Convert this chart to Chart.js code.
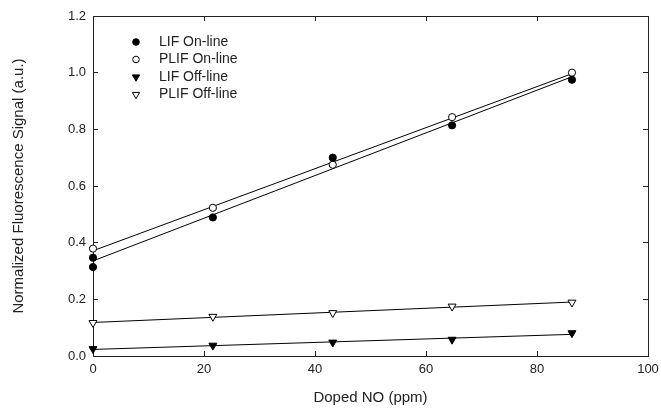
<!DOCTYPE html>
<html>
<head>
<meta charset="utf-8">
<script src="https://cdn.jsdelivr.net/npm/chart.js@4/dist/chart.umd.min.js"></script>
<style>
  body { margin: 0; background: #fff; }
  canvas { display: block; }
</style>
</head>
<body>
<canvas id="myChart" width="661" height="409"></canvas>
<script>
// values
const dopedNO = [0, 21.6, 43.2, 64.7, 86.3];
const lifOn = [0.347, 0.489, 0.700, 0.814, 0.975];
const lifOnRepeatX = [0];
const lifOnRepeat = [0.314];
const plifOn = [0.379, 0.523, 0.675, 0.843, 1.000];
const lifOff = [0.025, 0.037, 0.048, 0.058, 0.081];
const plifOff = [0.117, 0.139, 0.152, 0.175, 0.189];

const seriesNames = ["LIF On-line", "PLIF On-line", "LIF Off-line", "PLIF Off-line"];
const xTicks = [0, 20, 40, 60, 80, 100];
const yTicks = [0, 0.2, 0.4, 0.6, 0.8, 1.0, 1.2];

const ink = "#222";
const family = "'Liberation Sans', Arial, sans-serif";
const tickFont = { family: family, size: 13 };
const titleFont = { family: family, size: 15 };
const legendSize = 14;

const toPoints = (xs, ys) => xs.map((x, i) => ({ x: x, y: ys[i] }));

// least squares line through the points, drawn from first to last x
const fitLine = (xs, ys) => {
  const n = xs.length;
  const mx = xs.reduce((a, b) => a + b, 0) / n;
  const my = ys.reduce((a, b) => a + b, 0) / n;
  let sxy = 0;
  let sxx = 0;
  for (let i = 0; i < n; i++) {
    sxy += (xs[i] - mx) * (ys[i] - my);
    sxx += (xs[i] - mx) * (xs[i] - mx);
  }
  const slope = sxy / sxx;
  const icept = my - slope * mx;
  const lo = Math.min(...xs);
  const hi = Math.max(...xs);
  return [{ x: lo, y: icept + slope * lo }, { x: hi, y: icept + slope * hi }];
};

const lifOnX = dopedNO.concat(lifOnRepeatX);
const lifOnY = lifOn.concat(lifOnRepeat);

const markerSet = (label, data, style, filled) => ({
  label: label,
  data: data,
  showLine: false,
  pointStyle: style === "down" ? "triangle" : "circle",
  rotation: style === "down" ? 180 : 0,
  pointRadius: style === "down" ? 4.6 : 3.6,
  pointBackgroundColor: filled ? "#000" : "#fff",
  pointBorderColor: "#000",
  pointBorderWidth: 1,
  clip: false,
});

const fitSet = (data) => ({
  label: "fit",
  data: data,
  showLine: true,
  borderColor: "#000",
  borderWidth: 1,
  pointRadius: 0,
  clip: false,
});

const datasets = [
  markerSet(seriesNames[0], toPoints(lifOnX, lifOnY), "circle", true),
  markerSet(seriesNames[1], toPoints(dopedNO, plifOn), "circle", false),
  markerSet(seriesNames[2], toPoints(dopedNO, lifOff), "down", true),
  markerSet(seriesNames[3], toPoints(dopedNO, plifOff), "down", false),
  fitSet(fitLine(lifOnX, lifOnY)),
  fitSet(fitLine(dopedNO, plifOn)),
  fitSet(fitLine(dopedNO, lifOff)),
  fitSet(fitLine(dopedNO, plifOff)),
];

// legend sits inside the plot, top left
const insideLegend = {
  id: "insideLegend",
  afterDraw(chart) {
    const ctx = chart.ctx;
    const area = chart.chartArea;
    ctx.save();
    seriesNames.forEach((name, i) => {
      const ds = chart.data.datasets[i];
      const cx = area.left + 43;
      const cy = area.top + 26 + i * 17.5;
      ctx.fillStyle = ds.pointBackgroundColor;
      ctx.strokeStyle = ds.pointBorderColor;
      ctx.lineWidth = 1;
      Chart.helpers.drawPoint(ctx, {
        pointStyle: ds.pointStyle,
        rotation: ds.rotation,
        radius: ds.pointStyle === "circle" ? 3.3 : 4.2,
        borderWidth: 1,
      }, cx, cy);
      ctx.fillStyle = ink;
      ctx.font = legendSize + "px " + family;
      ctx.textAlign = "left";
      ctx.textBaseline = "middle";
      ctx.fillText(name, area.left + 66, cy);
    });
    ctx.restore();
  },
};

const tickGrid = { drawOnChartArea: false, drawTicks: true, tickLength: -5, color: ink, lineWidth: 1 };
const edge = { display: true, color: ink, width: 1 };

// fixed box sizes so the plot area lands where it is in the figure
const fixSize = (w, h) => (s) => {
  if (w !== null) s.width = w;
  if (h !== null) s.height = h;
  s.paddingLeft = 0;
  s.paddingRight = 0;
  s.paddingTop = 0;
  s.paddingBottom = 0;
};

const ctx = document.querySelector("#myChart").getContext("2d");
const scatterChart = new Chart(ctx, {
  type: "scatter",
  data: { datasets: datasets },
  options: {
    responsive: false,
    animation: false,
    layout: { padding: 0 },
    plugins: {
      legend: { display: false },
      tooltip: { enabled: false },
    },
    scales: {
      x: {
        type: "linear",
        position: "bottom",
        min: xTicks[0],
        max: xTicks[xTicks.length - 1],
        afterBuildTicks: (s) => { s.ticks = xTicks.map((v) => ({ value: v })); },
        ticks: { color: ink, font: tickFont, padding: 11, maxRotation: 0 },
        grid: tickGrid,
        border: edge,
        title: { display: true, text: "Doped NO (ppm)", color: ink, font: titleFont, padding: { top: 2, bottom: 2 } },
        afterFit: fixSize(null, 53),
      },
      y: {
        type: "linear",
        position: "left",
        min: yTicks[0],
        max: yTicks[yTicks.length - 1],
        afterBuildTicks: (s) => { s.ticks = yTicks.map((v) => ({ value: v })); },
        ticks: { color: ink, font: tickFont, padding: 12, callback: (v) => v.toFixed(1) },
        grid: tickGrid,
        border: edge,
        title: { display: true, text: "Normalized Fluorescence Signal (a.u.)", color: ink, font: titleFont, padding: { top: 10, bottom: 10 } },
        afterFit: fixSize(93, null),
      },
      xTop: {
        type: "linear",
        position: "top",
        min: xTicks[0],
        max: xTicks[xTicks.length - 1],
        afterBuildTicks: (s) => { s.ticks = xTicks.map((v) => ({ value: v })); },
        ticks: { display: false },
        grid: tickGrid,
        border: edge,
        afterFit: fixSize(null, 16),
      },
      yRight: {
        type: "linear",
        position: "right",
        min: yTicks[0],
        max: yTicks[yTicks.length - 1],
        afterBuildTicks: (s) => { s.ticks = yTicks.map((v) => ({ value: v })); },
        ticks: { display: false },
        grid: tickGrid,
        border: edge,
        afterFit: fixSize(13, null),
      },
    },
  },
  plugins: [insideLegend],
});
</script>
</body>
</html>
